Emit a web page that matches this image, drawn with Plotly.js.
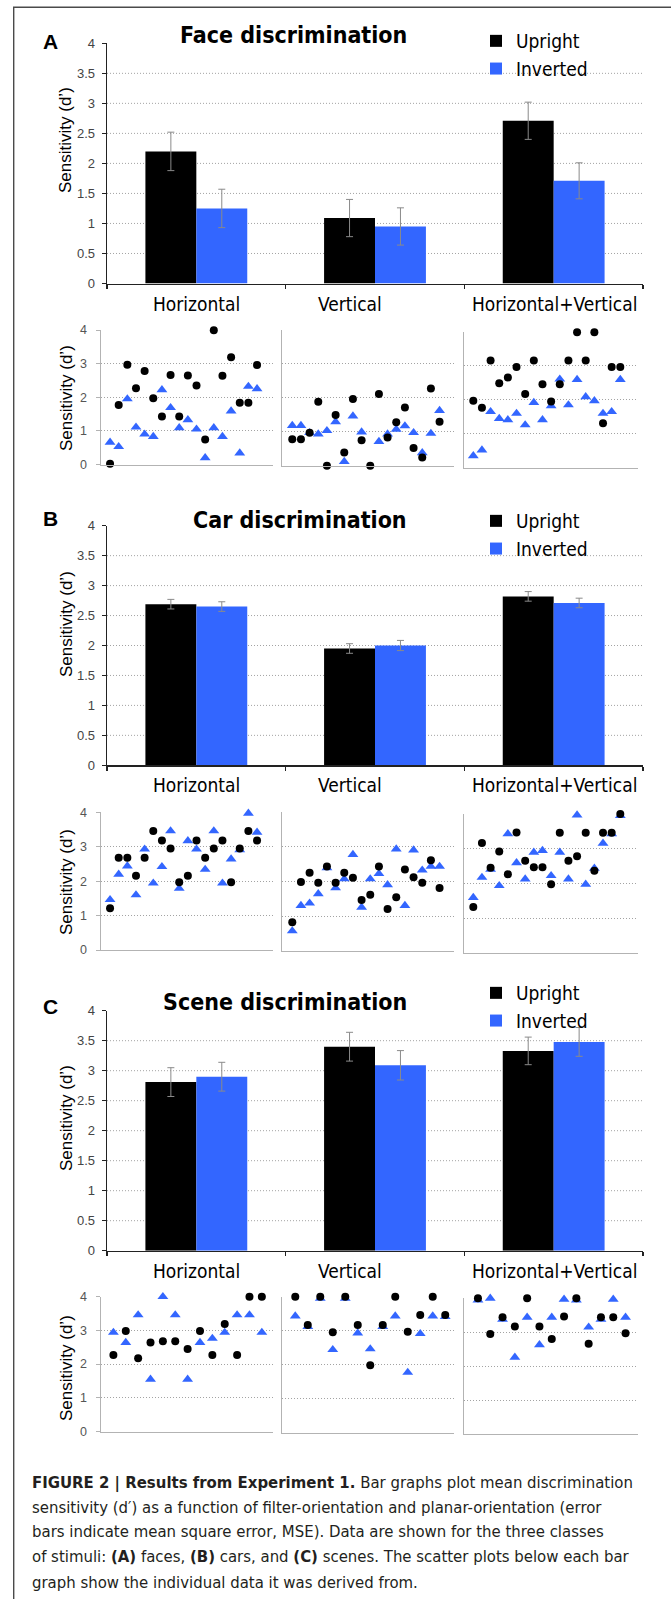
<!DOCTYPE html>
<html><head><meta charset="utf-8">
<script src="https://cdn.plot.ly/plotly-3.0.1.min.js"></script>
<style>html,body{margin:0;padding:0;background:#fff}</style>
</head><body><div id="chart" style="width:671px;height:1599px"></div>
<script>
// ---------------- data ----------------
const categories = ['Horizontal', 'Vertical', 'Horizontal+Vertical'];
const seriesNames = ['Upright', 'Inverted'];
const panelTitles = ['Face discrimination', 'Car discrimination', 'Scene discrimination'];
const panelLetters = ['A', 'B', 'C'];
const barTickVals = [0, 0.5, 1, 1.5, 2, 2.5, 3, 3.5, 4];
const barGridVals = [0.5, 1, 1.5, 2, 2.5, 3, 3.5];
const scatterTickVals = [0, 1, 2, 3, 4];
const yTitle = 'Sensitivity (d\u2019)';

const faceUpright = [2.20, 1.09, 2.71];
const faceUprightErr = [0.32, 0.31, 0.31];
const faceInverted = [1.25, 0.95, 1.71];
const faceInvertedErr = [0.32, 0.31, 0.30];
const carUpright = [2.69, 1.95, 2.82];
const carUprightErr = [0.08, 0.08, 0.08];
const carInverted = [2.65, 2.00, 2.71];
const carInvertedErr = [0.08, 0.085, 0.08];
const sceneUpright = [2.81, 3.40, 3.33];
const sceneUprightErr = [0.24, 0.24, 0.23];
const sceneInverted = [2.90, 3.09, 3.48];
const sceneInvertedErr = [0.24, 0.245, 0.24];

const subjects18 = [1, 2, 3, 4, 5, 6, 7, 8, 9, 10, 11, 12, 13, 14, 15, 16, 17, 18];
const subjects13 = [1, 2, 3, 4, 5, 6, 7, 8, 9, 10, 11, 12, 13];

const faceHorizUp = [0.02, 1.77, 2.97, 2.27, 2.78, 1.97, 1.43, 2.66, 1.43, 2.65, 2.35, 0.74, 3.99, 2.64, 3.19, 1.84, 1.84, 2.96];
const faceHorizInv = [0.66, 0.53, 1.95, 1.11, 0.90, 0.83, 2.22, 1.69, 1.09, 1.33, 1.05, 0.20, 1.09, 0.83, 1.59, 0.34, 2.32, 2.25];
const faceVertUp = [0.78, 0.78, 0.97, 1.88, 0.00, 1.49, 0.39, 1.96, 0.75, 0.00, 2.11, 0.83, 1.28, 1.71, 0.52, 0.24, 2.27, 1.29];
const faceVertInv = [1.18, 1.18, 0.97, 0.93, 1.03, 1.29, 0.12, 1.46, 0.99, -0.05, 0.71, 0.93, 1.07, 1.17, 0.97, 0.38, 0.95, 1.62];
const faceHVUp = [1.97, 1.77, 3.16, 2.49, 2.66, 2.97, 2.17, 3.16, 2.46, 1.95, 2.46, 3.16, 3.99, 3.16, 3.99, 1.31, 2.97, 2.97];
const faceHVInv = [0.35, 0.52, 1.65, 1.45, 1.41, 1.60, 1.26, 1.92, 1.41, 1.82, 2.61, 1.85, 2.60, 2.09, 1.97, 1.60, 1.65, 2.60];

const carHorizUp = [1.21, 2.68, 2.68, 2.16, 2.68, 3.46, 3.18, 2.95, 1.97, 2.16, 3.18, 2.68, 2.95, 3.18, 1.97, 2.95, 3.46, 3.18];
const carHorizInv = [1.46, 2.20, 2.44, 1.60, 2.93, 1.94, 2.42, 3.46, 1.79, 3.17, 2.93, 2.34, 3.46, 1.94, 2.64, 2.91, 3.97, 3.42];
const carVertUp = [0.83, 1.99, 2.26, 1.97, 2.44, 1.97, 2.26, 2.11, 1.47, 1.62, 2.44, 1.21, 1.55, 2.35, 2.13, 1.97, 2.62, 1.82];
const carVertInv = [0.58, 1.31, 1.38, 1.65, 2.40, 1.82, 2.08, 2.78, 1.26, 2.08, 2.23, 1.91, 2.94, 1.31, 2.91, 2.33, 2.44, 2.44];
const carHVUp = [1.33, 3.17, 2.46, 2.92, 2.27, 3.47, 2.66, 2.47, 2.47, 1.98, 3.46, 2.66, 2.79, 3.46, 2.37, 3.46, 3.46, 4.00];
const carHVInv = [1.60, 2.18, 2.41, 1.94, 3.43, 2.60, 2.13, 2.90, 2.95, 2.23, 2.90, 2.13, 3.97, 1.98, 2.44, 3.16, 3.43, 3.95];

const sceneHorizUp = [2.27, 2.98, 2.17, 2.64, 2.68, 2.68, 2.45, 2.98, 2.27, 3.19, 2.27, 4.00, 4.00];
const sceneHorizInv = [2.94, 2.64, 3.46, 1.55, 4.00, 3.46, 1.55, 2.64, 2.76, 2.94, 3.46, 3.46, 2.94];
const sceneVertUp = [4.00, 3.17, 4.00, 2.95, 4.00, 3.17, 1.98, 3.17, 4.00, 2.97, 3.46, 4.00, 3.46];
const sceneVertInv = [3.43, 3.12, 3.95, 2.44, 3.95, 2.93, 2.46, 3.12, 3.43, 1.77, 2.91, 3.43, 3.41];
const sceneHVUp = [4.00, 2.95, 3.44, 3.17, 4.00, 3.17, 2.80, 3.46, 4.00, 2.66, 3.44, 3.44, 2.97];
const sceneHVInv = [3.95, 4.00, 3.38, 2.26, 3.44, 2.63, 3.44, 3.97, 3.95, 3.15, 3.38, 3.97, 3.44];

const captionLines = [
  '<b>FIGURE 2 | Results from Experiment 1.</b> Bar graphs plot mean discrimination',
  'sensitivity (d\u2032) as a function of filter-orientation and planar-orientation (error',
  'bars indicate mean square error, MSE). Data are shown for the three classes',
  'of stimuli: <b>(A)</b> faces, <b>(B)</b> cars, and <b>(C)</b> scenes. The scatter plots below each bar',
  'graph show the individual data it was derived from.'
];

// ---------------- geometry / style ----------------
const W = 671, H = 1599;
const px = v => v / W;
const py = v => 1 - v / H;
const xdom = (l, r) => [px(l), px(r)];
const ydom = (t, b) => [py(b), py(t)];

const BLACK = '#000000', BLUE = '#3366ff';
const GRID = '#a3a3a3', SC_AX = '#b3b3b3';
const CAT_FONT = 'DejaVu Sans Condensed, DejaVu Sans, sans-serif';
const ARIAL = 'Liberation Sans, Arial, sans-serif';

const barPanels = [
  {up: faceUpright, upErr: faceUprightErr, inv: faceInverted, invErr: faceInvertedErr, top: 43.3, bot: 283.5, titleY: 34.5, letterY: 42, legTop: 22, yTitleY: 140},
  {up: carUpright, upErr: carUprightErr, inv: carInverted, invErr: carInvertedErr, top: 525.7, bot: 765.3, titleY: 520, letterY: 518.5, legTop: 502, yTitleY: 624},
  {up: sceneUpright, upErr: sceneUprightErr, inv: sceneInverted, invErr: sceneInvertedErr, top: 1010.7, bot: 1250.7, titleY: 1002, letterY: 1007, legTop: 974, yTitleY: 1118}
];
const scatterPanels = [
  [{x: subjects18, up: faceHorizUp, inv: faceHorizInv, l: 101.4, r: 272.6, t: 330, b: 464.5, range: [0, 19.8]},
   {x: subjects18, up: faceVertUp, inv: faceVertInv, l: 282.4, r: 453.6, t: 329.7, b: 465.7, range: [-0.14, 19.62]},
   {x: subjects18, up: faceHVUp, inv: faceHVInv, l: 464.3, r: 637.6, t: 332, b: 467.7, range: [-0.04, 20.0]}],
  [{x: subjects18, up: carHorizUp, inv: carHorizInv, l: 101.4, r: 272.6, t: 812.3, b: 950, range: [0, 19.8]},
   {x: subjects18, up: carVertUp, inv: carVertInv, l: 282.4, r: 453.6, t: 812.3, b: 951, range: [-0.14, 19.62]},
   {x: subjects18, up: carHVUp, inv: carHVInv, l: 464.3, r: 637.6, t: 814, b: 953.3, range: [-0.04, 20.0]}],
  [{x: subjects13, up: sceneHorizUp, inv: sceneHorizInv, l: 101.4, r: 272.6, t: 1296.7, b: 1431.5, range: [0.03, 13.87]},
   {x: subjects13, up: sceneVertUp, inv: sceneVertInv, l: 282.4, r: 453.6, t: 1296.7, b: 1432.5, range: [-0.03, 13.67]},
   {x: subjects13, up: sceneHVUp, inv: sceneHVInv, l: 464.3, r: 637.6, t: 1298.3, b: 1434, range: [-0.11, 13.98]}]
];
const scatterYTitleY = [398, 882, 1368];
const catLabelShift = [0, -25, 1];
const captionY = [1482.5, 1507, 1531.5, 1556.5, 1582];

const traces = [];
const layout = {
  width: W, height: H,
  margin: {l: 0, r: 0, t: 0, b: 0},
  paper_bgcolor: '#fff', plot_bgcolor: 'rgba(0,0,0,0)',
  barmode: 'group', bargap: 0.43, bargroupgap: 0,
  font: {family: ARIAL, color: '#000'},
  annotations: [], shapes: []
};

// outer frame
layout.shapes.push({type: 'rect', xref: 'paper', yref: 'paper', x0: px(13.7), x1: px(690), y0: py(1620), y1: py(7.3),
  line: {color: '#4a4a4a', width: 1.4}, layer: 'below'});

barPanels.forEach((p, i) => {
  const n = i + 1;
  const xa = n === 1 ? 'x' : 'x' + n, ya = n === 1 ? 'y' : 'y' + n;
  const xk = n === 1 ? 'xaxis' : 'xaxis' + n, yk = n === 1 ? 'yaxis' : 'yaxis' + n;
  const lg = n === 1 ? 'legend' : 'legend' + n;
  const vals = [[p.up, p.upErr, BLACK], [p.inv, p.invErr, BLUE]];
  vals.forEach((v, j) => {
    traces.push({type: 'bar', x: categories, y: v[0], name: seriesNames[j], xaxis: xa, yaxis: ya, legend: lg,
      marker: {color: v[2], line: {width: 0}},
      error_y: {type: 'data', array: v[1], visible: true, color: '#8a8a8a', thickness: 1, width: 3.5},
      hoverinfo: 'skip'});
  });
  layout[xk] = {domain: xdom(107, 643), anchor: ya, type: 'category', range: [-0.5, 2.5],
    showline: true, linecolor: '#222', linewidth: 1.3, ticks: 'outside', tickson: 'boundaries', ticklen: 4,
    tickcolor: '#222', tickwidth: 1.3, showticklabels: false, showgrid: false, zeroline: false, fixedrange: true};
  layout[yk] = {domain: ydom(p.top, p.bot), anchor: xa, range: [0, 4], tickmode: 'array', tickvals: barTickVals,
    showline: true, linecolor: '#222', linewidth: 1.3, ticks: 'outside', ticklen: 4, tickcolor: '#222', tickwidth: 1,
    tickfont: {family: ARIAL, size: 13, color: '#444'}, ticklabelstandoff: 4,
    showgrid: false, zeroline: false, fixedrange: true};
  layout[lg] = {x: px(476), xanchor: 'left', y: py(p.legTop), yanchor: 'top', bgcolor: 'rgba(0,0,0,0)',
    font: {family: CAT_FONT, size: 19, color: '#000'}, itemwidth: 30, tracegroupgap: 0, traceorder: 'normal'};
  barGridVals.forEach(g => layout.shapes.push({type: 'line', xref: xa + ' domain', yref: ya, x0: 0, x1: 1, y0: g, y1: g,
    layer: 'below', line: {color: GRID, width: 1, dash: '1px,2px'}}));
  layout.annotations.push({text: panelTitles[i], xref: 'paper', yref: 'paper', x: px(409), y: py(p.titleY),
    xanchor: 'right', yanchor: 'middle', showarrow: false, font: {family: CAT_FONT, size: 23, weight: 'bold', color: '#000'}});
  layout.annotations.push({text: panelLetters[i], xref: 'paper', yref: 'paper', x: px(50), y: py(p.letterY),
    xanchor: 'center', yanchor: 'middle', showarrow: false, font: {family: ARIAL, size: 21, weight: 'bold', color: '#000'}});
  layout.annotations.push({text: yTitle, xref: 'paper', yref: 'paper', x: px(66), y: py(p.yTitleY), textangle: -90,
    xanchor: 'center', yanchor: 'middle', showarrow: false, font: {family: ARIAL, size: 17, color: '#000'}});
  layout.annotations.push({text: yTitle, xref: 'paper', yref: 'paper', x: px(66), y: py(scatterYTitleY[i]), textangle: -90,
    xanchor: 'center', yanchor: 'middle', showarrow: false, font: {family: ARIAL, size: 17, color: '#000'}});
  categories.forEach((c, k) => layout.annotations.push({text: c, xref: xa, yref: ya, x: k, y: 0, yshift: -20,
    xshift: catLabelShift[k], xanchor: 'center', yanchor: 'middle', showarrow: false,
    font: {family: CAT_FONT, size: 19, color: '#000'}}));
});

let axn = 4;
scatterPanels.forEach((row, i) => {
  row.forEach((s, k) => {
    const xa = 'x' + axn, ya = 'y' + axn;
    traces.push({type: 'scatter', mode: 'markers', x: s.x, y: s.inv, xaxis: xa, yaxis: ya, showlegend: false,
      cliponaxis: false, marker: {symbol: 'triangle-up', size: 9.5, color: BLUE}, hoverinfo: 'skip'});
    traces.push({type: 'scatter', mode: 'markers', x: s.x, y: s.up, xaxis: xa, yaxis: ya, showlegend: false,
      cliponaxis: false, marker: {symbol: 'circle', size: 8, color: BLACK}, hoverinfo: 'skip'});
    layout['xaxis' + axn] = {domain: xdom(s.l, s.r), anchor: ya, range: s.range, showline: true, linecolor: SC_AX,
      linewidth: 1, showticklabels: false, ticks: '', showgrid: false, zeroline: false, fixedrange: true};
    layout['yaxis' + axn] = {domain: ydom(s.t, s.b), anchor: xa, range: [0, 4], tickmode: 'array', tickvals: scatterTickVals,
      showline: true, linecolor: SC_AX, linewidth: 1, showgrid: true, gridcolor: GRID, gridwidth: 1, griddash: '1px,2px',
      showticklabels: k === 0, ticks: k === 0 ? 'outside' : '', ticklen: 4, tickcolor: SC_AX, ticklabelstandoff: 7,
      tickfont: {family: ARIAL, size: 12.5, color: '#555'}, zeroline: false, fixedrange: true};
    axn++;
  });
});

captionLines.forEach((t, i) => layout.annotations.push({text: t, xref: 'paper', yref: 'paper', x: px(30), y: py(captionY[i]),
  xanchor: 'left', yanchor: 'middle', align: 'left', showarrow: false,
  font: {family: 'DejaVu Sans Condensed, DejaVu Sans, sans-serif', size: 16.6, color: '#231f20'}}));

Plotly.newPlot('chart', traces, layout, {displayModeBar: false, staticPlot: true});
</script></body></html>
